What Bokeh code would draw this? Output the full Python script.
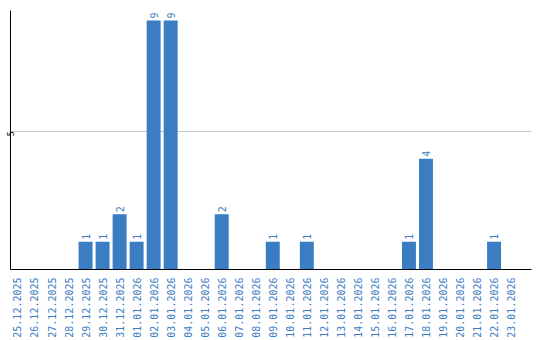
import math
from bokeh.plotting import figure
from bokeh.models import Range1d, FixedTicker, ColumnDataSource
from bokeh.core.properties import value
from bokeh.embed import file_html
from bokeh.resources import INLINE

dates = ["25.12.2025", "26.12.2025", "27.12.2025", "28.12.2025", "29.12.2025",
         "30.12.2025", "31.12.2025", "01.01.2026", "02.01.2026", "03.01.2026",
         "04.01.2026", "05.01.2026", "06.01.2026", "07.01.2026", "08.01.2026",
         "09.01.2026", "10.01.2026", "11.01.2026", "12.01.2026", "13.01.2026",
         "14.01.2026", "15.01.2026", "16.01.2026", "17.01.2026", "18.01.2026",
         "19.01.2026", "20.01.2026", "21.01.2026", "22.01.2026", "23.01.2026"]
counts = [0, 0, 0, 0, 1, 1, 2, 1, 9, 9,
          0, 0, 2, 0, 0, 1, 0, 1, 0, 0,
          0, 0, 0, 1, 4, 0, 0, 0, 1, 0]
y_ticks = [5]

BLUE = "#3b7dc3"
FONT = "DejaVu Sans Mono"

idx = list(range(len(dates)))
src = ColumnDataSource(dict(x=idx, y=counts))
lab_x = [i for i, c in zip(idx, counts) if c > 0]
lab_y = [c for c in counts if c > 0]
lab_t = [str(c) for c in lab_y]
lsrc = ColumnDataSource(dict(x=lab_x, y=lab_y, t=lab_t))

p = figure(width=540, height=340, output_backend="svg", toolbar_location=None,
           x_range=Range1d(-0.41, 30.2), y_range=Range1d(0, 9.36),
           min_border_left=10, min_border_right=9, min_border_top=10,
           min_border_bottom=71)
p.outline_line_color = None
p.background_fill_color = "white"
p.border_fill_color = "white"

p.vbar(x="x", top="y", width=0.82, source=src, fill_color=BLUE, line_color=None)
p.text(x="x", y="y", text="t", source=lsrc, angle=math.pi / 2,
       text_align="left", text_baseline="middle", y_offset=-2,
       text_font=value(FONT), text_font_size="10px", text_color=BLUE)

# x axis
p.xaxis.ticker = FixedTicker(ticks=idx)
p.xaxis.major_label_overrides = {i: d for i, d in zip(idx, dates)}
p.xaxis.major_label_orientation = math.pi / 2
p.xaxis.major_label_text_font = FONT
p.xaxis.major_label_text_font_size = "10px"
p.xaxis.major_label_text_color = BLUE
p.xaxis.major_tick_line_color = None
p.xaxis.minor_tick_line_color = None
p.xaxis.major_tick_out = 0
p.xaxis.major_label_standoff = 8
p.xaxis.axis_line_color = "black"
p.xaxis.axis_line_width = 1

# y axis
p.yaxis.ticker = FixedTicker(ticks=y_ticks)
p.yaxis.major_label_orientation = math.pi / 2
p.yaxis.major_label_text_font = "DejaVu Sans"
p.yaxis.major_label_text_font_size = "8px"
p.yaxis.major_label_text_color = "black"
p.yaxis.major_tick_line_color = None
p.yaxis.minor_tick_line_color = None
p.yaxis.major_tick_out = 0
p.yaxis.major_label_standoff = 0
p.yaxis.axis_line_color = "black"
p.yaxis.axis_line_width = 1

p.xgrid.grid_line_color = None
p.ygrid.ticker = FixedTicker(ticks=y_ticks)
p.ygrid.grid_line_color = "#c8c8c8"
p.ygrid.grid_line_width = 1

open("out.html", "w").write(file_html(p, INLINE))
